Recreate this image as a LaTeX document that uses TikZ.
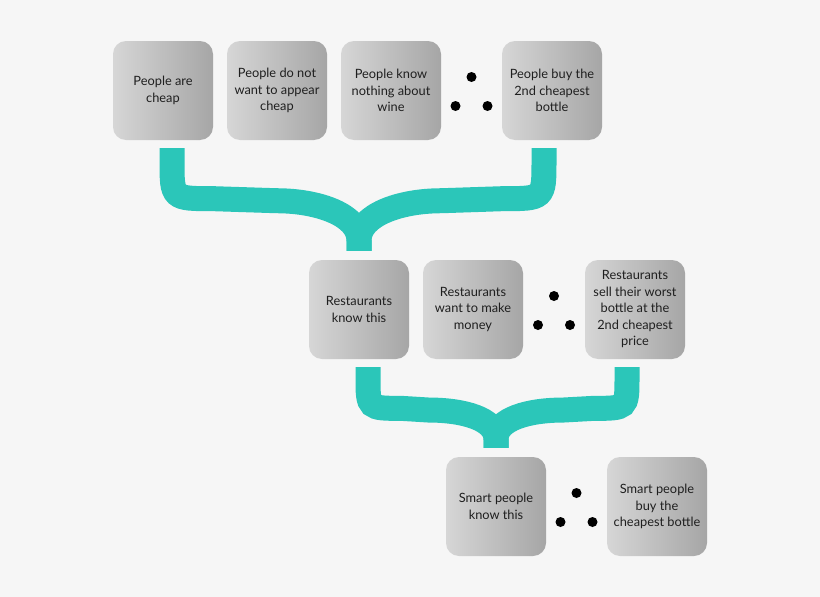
\documentclass[tikz,border=0pt]{standalone}
\usepackage{fontspec}
\setmainfont{Lato}
\usetikzlibrary{positioning}
\usetikzlibrary{calc}
\definecolor{bggray}{RGB}{246,246,246}
\definecolor{braceteal}{RGB}{43,198,185}
\definecolor{boxlight}{RGB}{214,214,214}
\definecolor{boxdark}{RGB}{166,166,166}
\tikzset{
  fact/.style={minimum width=100pt, minimum height=99pt, inner sep=1pt, rounded corners=13pt,
    left color=boxlight, right color=boxdark, align=center,
    font=\fontsize{12.8}{16.5}\selectfont, text=black!88},
  brace/.style={line width=25pt, braceteal},
}

\begin{document}
\begin{tikzpicture}[x=1pt, y=-1pt]

  \fill[bggray] (0,0) rectangle (820,597);
  \useasboundingbox (0,0) rectangle (820,597);

 %row 1
 	\def\dy{90.5};
    \foreach \x/\txt/\name in {163/{People are\\cheap}/p1, 277/{People do not\\want to appear\\cheap}/p2,
        391/{People know\\nothing about\\wine}/p3, 552/{People buy the\\2nd cheapest\\bottle}/p4} {
         \node[fact] (\name) at (\x, \dy) {\txt};
    }

 %row 2
 	\def\dy{309.5};
    \foreach \x/\txt/\name in {359/{Restaurants\\know this}/r1, 473/{Restaurants\\want to make\\money}/r2,
        635/{Restaurants\\sell their worst\\bottle at the\\2nd cheapest\\price}/r3} {
         \node[fact] (\name) at (\x, \dy) {\txt};
    }

 %row 3
 	\def\dy{506.5};
    \foreach \x/\txt/\name in {496/{Smart people\\know this}/s1, 657/{Smart people\\buy the\\cheapest bottle}/s2} {
         \node[fact] (\name) at (\x, \dy) {\txt};
    }

 %therefore dots
    \foreach \u/\v in {p3/p4, r2/r3, s1/s2} {
         \coordinate (D) at ($(\u.east)!0.5!(\v.west)$);
         \fill ($(D)+(0,-13.5)$) circle (5pt);
         \fill ($(D)+(-16,15.5)$) circle (5pt);
         \fill ($(D)+(16,15.5)$) circle (5pt);
    }

 %braces row 1->2, row 2->3
    \foreach \a/\b/\c/\h in {p1/p4/r1/103, r1/r3/s1/84} {
         \coordinate (L) at ($(\a.south)+(9,8)$);
         \coordinate (R) at ($(\b.south)+(-8,8)$);
         \coordinate (M) at ($(\c.north)+(0,-9)$);
         \foreach \arm/\s in {L/1, R/-1} {
              \draw[brace] (\arm) -- ($(\arm)+(0,0.12*\h)$)
                  .. controls ($(\arm)+(0,0.49*\h)$) .. ($(\arm)+(\s*0.4*\h,0.49*\h)$)
                  -- ($(M |- \arm)+(\s*-0.8*\h,0.51*\h)$)
                  .. controls ($(M |- \arm)+(\s*-0.4*\h,0.51*\h)$) and ($(M)+(0,-0.35*\h)$) .. ($(M)+(0,-0.1*\h)$)
                  -- (M);
         }
    }

\end{tikzpicture}
\end{document}
